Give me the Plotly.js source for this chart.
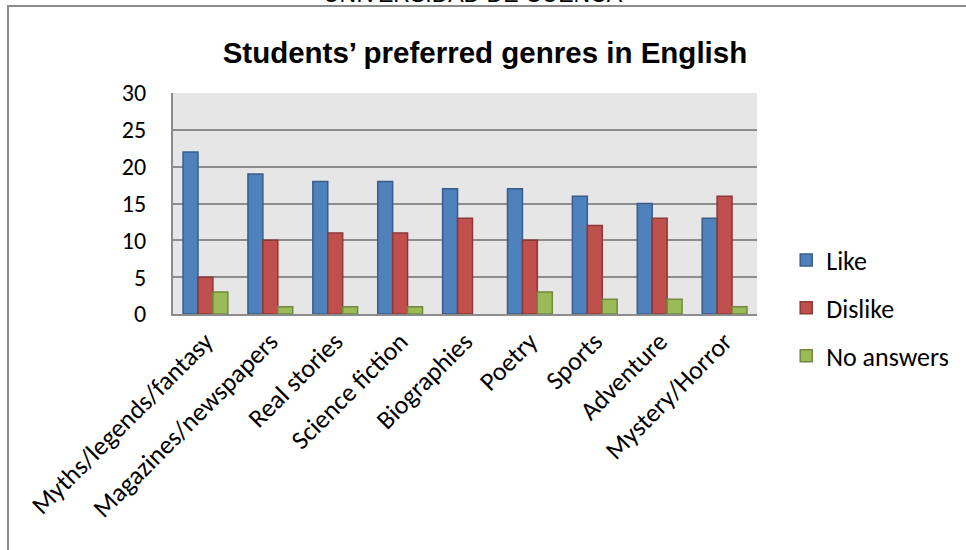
<!DOCTYPE html>
<html>
<head>
<meta charset="utf-8">
<script src="https://cdn.plot.ly/plotly-3.0.1.min.js"></script>
<style>
  html, body { margin: 0; padding: 0; background: #ffffff; overflow: hidden; }
  #frame { position: absolute; left: 7px; top: 5px; width: 1000px; height: 600px;
           border-left: 2px solid #8a8a8a; border-top: 2px solid #8a8a8a; }
  #chart { position: absolute; left: 0; top: 0; width: 966px; height: 550px; }
</style>
</head>
<body>
<div id="frame"></div>
<div id="chart"></div>
<script>
const categories = ["Myths/legends/fantasy", "Magazines/newspapers", "Real stories", "Science fiction",
                    "Biographies", "Poetry", "Sports", "Adventure", "Mystery/Horror"];
const like      = [22, 19, 18, 18, 17, 17, 16, 15, 13];
const dislike   = [5, 10, 11, 11, 13, 10, 12, 13, 16];
const noAnswers = [3, 1, 1, 1, 0, 3, 2, 2, 1];
const seriesNames = ["Like", "Dislike", "No answers"];
const yTicks = [0, 5, 10, 15, 20, 25, 30];

const fill = ["#4F81BD", "#C0504D", "#9BBB59"];
const edge = ["#385D8A", "#8C3836", "#71893F"];
const series = [like, dislike, noAnswers];

const labelFont = "Carlito, Lato, 'Liberation Sans', sans-serif";

const traces = series.map((vals, i) => ({
  type: "bar",
  name: seriesNames[i],
  x: categories,
  y: vals,
  legendgroup: "g" + i,
  marker: { color: fill[i], line: { color: edge[i], width: vals.map(v => v > 0 ? 1.5 : 0) } },
  hoverinfo: "x+y+name"
}));

const layout = {
  width: 966,
  height: 550,
  paper_bgcolor: "rgba(0,0,0,0)",
  plot_bgcolor: "#E6E6E6",
  margin: { l: 173, r: 206, t: 93, b: 236, pad: 0 },
  barmode: "group",
  bargap: 0.31,
  bargroupgap: 0,
  showlegend: true,
  title: {
    text: "<b>Students\u2019 preferred genres in English</b>",
    font: { family: "'Liberation Sans', Arial, sans-serif", size: 29.5, color: "#000" },
    x: 0.502, xref: "container", xanchor: "center",
    y: 1 - 53 / 550, yref: "container", yanchor: "middle"
  },
  annotations: [{
    text: "UNIVERSIDAD DE CUENCA",
    xref: "paper", yref: "paper",
    x: (475 - 173) / 587, y: 1 + (93 - 9) / 221,
    xanchor: "center", yanchor: "bottom",
    showarrow: false,
    font: { family: "'Liberation Sans', Arial, sans-serif", size: 23, color: "#000" }
  }],
  xaxis: {
    type: "category",
    tickangle: -45,
    tickfont: { family: labelFont, size: 26, color: "#000" },
    showgrid: false,
    showline: true, linecolor: "#8c8c8c", linewidth: 2,
    ticks: "", automargin: false
  },
  yaxis: {
    range: [0, 30],
    tickvals: yTicks,
    ticktext: yTicks.map(String),
    tickfont: { family: labelFont, size: 24, color: "#000" },
    showgrid: true, gridcolor: "#8c8c8c", gridwidth: 2,
    zeroline: false,
    showline: true, linecolor: "#8c8c8c", linewidth: 2,
    ticks: "", ticklabelstandoff: 20, automargin: false
  },
  legend: {
    x: 1.05, xanchor: "left",
    y: 0.35, yanchor: "top",
    traceorder: "grouped",
    tracegroupgap: 11,
    bgcolor: "rgba(0,0,0,0)",
    font: { family: labelFont, size: 26, color: "#000" },
    itemwidth: 30
  }
};

Plotly.newPlot("chart", traces, layout, { displayModeBar: false, staticPlot: true });
</script>
</body>
</html>
